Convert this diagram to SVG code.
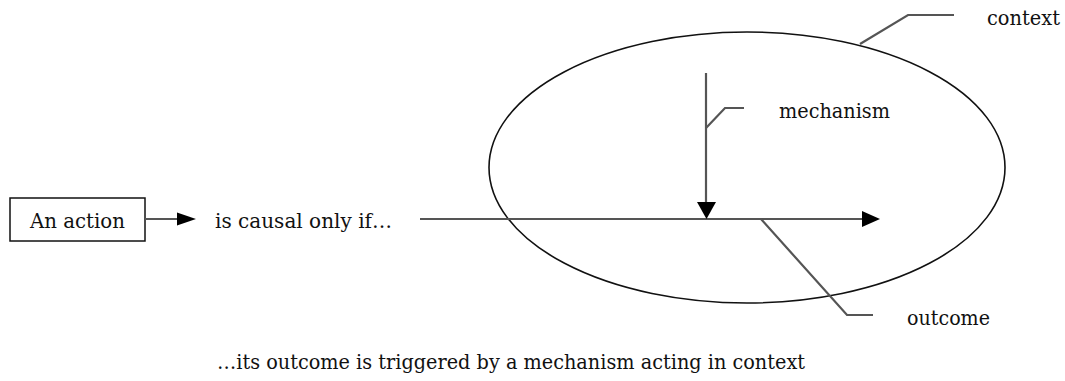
<svg xmlns="http://www.w3.org/2000/svg" width="1065" height="381" viewBox="0 0 1065 381">
<style>
.t{font-family:'DejaVu Serif','Liberation Serif',serif;font-size:21px;fill:#111}
.ln{stroke:#555;stroke-width:2.2;fill:none}
.el{stroke:#111;stroke-width:1.6;fill:none}
</style>
<rect width="1065" height="381" fill="#fff"/>
<g id="action">
<rect x="10" y="198" width="135" height="43" fill="#fff" stroke="#111" stroke-width="1.5"/>
<text class="t" x="30" y="228" textLength="95" lengthAdjust="spacingAndGlyphs">An action</text>
</g>
<g id="causal"><text class="t" x="215" y="228" textLength="177" lengthAdjust="spacingAndGlyphs">is causal only if…</text></g>
<g id="context">
<ellipse class="el" cx="747" cy="167.5" rx="258" ry="135.5"/>
<text class="t" x="987" y="25" textLength="73" lengthAdjust="spacingAndGlyphs">context</text>
</g>
<g id="mechanism"><text class="t" x="779" y="118" textLength="111" lengthAdjust="spacingAndGlyphs">mechanism</text></g>
<g id="outcome"><text class="t" x="907" y="325" textLength="83" lengthAdjust="spacingAndGlyphs">outcome</text></g>
<g id="caption"><text class="t" x="217" y="369" textLength="588" lengthAdjust="spacingAndGlyphs">…its outcome is triggered by a mechanism acting in context</text></g>
<g id="connectors">
<line class="ln" x1="145" y1="219" x2="180" y2="219"/>
<path d="M177,212.5 L196,219 L177,225.5 Z" fill="#000"/>
<line class="ln" x1="420" y1="219" x2="864" y2="219"/>
<path d="M862,211 L880,219 L862,227 Z" fill="#000"/>
<line class="ln" x1="706" y1="73" x2="706" y2="204"/>
<path d="M697,202 L716,202 L706.5,219 Z" fill="#000"/>
<polyline class="ln" points="706,128 725,108 744,108"/>
<polyline class="ln" points="860,44 908,15 954,15"/>
<polyline class="ln" points="761,219 847,315 873,315"/>
</g>
</svg>
